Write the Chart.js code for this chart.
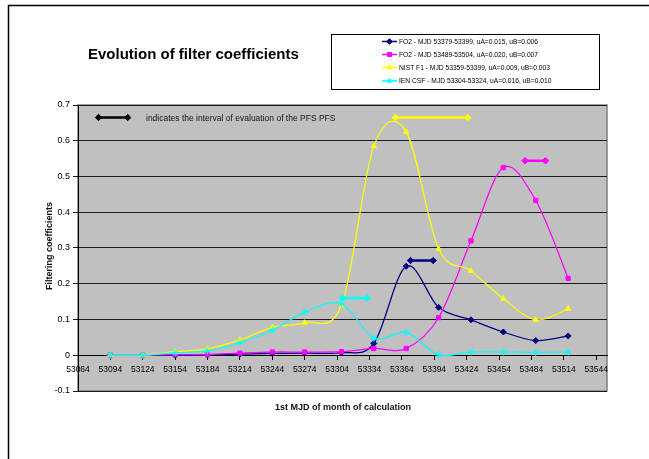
<!DOCTYPE html>
<html>
<head>
<meta charset="utf-8">
<script src="https://cdn.jsdelivr.net/npm/chart.js@4.4.1/dist/chart.umd.min.js"></script>
<style>
  html, body { margin: 0; padding: 0; background: #fff; }
  #wrap { width: 649px; height: 459px; }
</style>
</head>
<body>
<div id="wrap"><canvas id="filterChart" width="649" height="459"></canvas></div>
<script>
// Data
const mjd = [53094, 53124, 53154, 53184, 53214, 53244, 53274, 53308, 53338, 53368, 53398, 53428, 53458, 53488, 53518];
const fo2a = [0, 0, 0, 0.001, 0.003, 0.005, 0.006, 0.007, 0.033, 0.249, 0.134, 0.099, 0.065, 0.041, 0.054];
const fo2b = [0, 0, 0.002, 0.002, 0.006, 0.009, 0.009, 0.01, 0.019, 0.019, 0.105, 0.32, 0.525, 0.433, 0.215];
const nist = [0, 0, 0.01, 0.018, 0.043, 0.078, 0.091, 0.14, 0.585, 0.625, 0.298, 0.236, 0.158, 0.099, 0.13];
const ienCsf = [0, 0, 0.007, 0.012, 0.035, 0.07, 0.12, 0.144, 0.048, 0.064, 0.001, 0.009, 0.009, 0.008, 0.009];

// evaluation intervals [start, end] and level
const fo2aInterval = [53372, 53393];
const fo2aLevel = 0.265;
const fo2bInterval = [53478, 53497];
const fo2bLevel = 0.544;
const nistInterval = [53358, 53425];
const nistLevel = 0.665;
const ienInterval = [53309, 53332];
const ienLevel = 0.16;
const keyInterval = [53083, 53110];
const keyLevel = 0.665;

const xTicks = [53064, 53094, 53124, 53154, 53184, 53214, 53244, 53274, 53304, 53334, 53364, 53394, 53424, 53454, 53484, 53514, 53544];
const yTicks = [-0.1, 0, 0.1, 0.2, 0.3, 0.4, 0.5, 0.6, 0.7];

const seriesLabels = [
  'FO2 - MJD 53379-53399, uA=0.015, uB=0.006',
  'FO2 - MJD 53489-53504, uA=0.020, uB=0.007',
  'NIST F1 - MJD 53359-53399, uA=0.009, uB=0.003',
  'IEN CSF - MJD 53304-53324, uA=0.016, uB=0.010',
];
const seriesColors = ['#000080', '#FF00FF', '#FFFF00', '#00FFFF'];
const seriesMarkers = ['rectRot', 'rect', 'triangle', 'star'];

const FONT = 'Arial, "Liberation Sans", sans-serif';

function pts(xs, ys) {
  return xs.map((x, i) => ({ x: x, y: ys[i] }));
}

function series(i, values) {
  return {
    label: seriesLabels[i],
    data: pts(mjd, values),
    borderColor: seriesColors[i],
    backgroundColor: seriesColors[i],
    borderWidth: 1.25,
    tension: 0.4,
    pointStyle: seriesMarkers[i],
    pointRadius: seriesMarkers[i] === 'star' ? 3.5 : 3,
    pointBorderWidth: 1,
    pointBorderColor: seriesColors[i],
    order: 10 - i,
  };
}

function interval(range, level, color) {
  return {
    label: 'interval',
    data: pts(range, [level, level]),
    borderColor: color,
    backgroundColor: color,
    borderWidth: 2.5,
    tension: 0,
    pointStyle: 'rectRot',
    pointRadius: 3.2,
    pointBorderWidth: 1,
    pointBorderColor: color,
    order: 0,
  };
}

// Excel-like smoothing (uniform Catmull-Rom) for the 4 series
const smoothPlugin = {
  id: 'smooth',
  beforeDatasetsDraw(chart) {
    for (let i = 0; i < 4; i++) {
      const meta = chart.getDatasetMeta(i);
      meta.dataset.updateControlPoints(chart.chartArea, 'x');
      const p = meta.data;
      for (let j = 0; j < p.length; j++) {
        const prev = p[j - 1] || p[j];
        const next = p[j + 1] || p[j];
        const dx = (next.x - prev.x) / 6;
        const dy = (next.y - prev.y) / 6;
        p[j].cp1x = p[j].x - dx;
        p[j].cp1y = p[j].y - dy;
        p[j].cp2x = p[j].x + dx;
        p[j].cp2y = p[j].y + dy;
      }
      meta.dataset._path = undefined;
    }
  },
};

// background, frame, title, legend and texts
const decorPlugin = {
  id: 'decor',
  beforeDraw(chart) {
    const { ctx, chartArea: a } = chart;
    ctx.save();
    ctx.fillStyle = '#fff';
    ctx.fillRect(0, 0, chart.width, chart.height);
    ctx.fillStyle = '#C0C0C0';
    ctx.fillRect(a.left, a.top, a.right - a.left, a.bottom - a.top);
    ctx.strokeStyle = '#808080';
    ctx.lineWidth = 1.5;
    ctx.strokeRect(a.left, a.top, a.right - a.left, a.bottom - a.top);
    ctx.restore();
  },
  afterDraw(chart) {
    const { ctx } = chart;
    ctx.save();

    // outer frame (cut at right and bottom)
    ctx.strokeStyle = '#000';
    ctx.lineWidth = 1.5;
    ctx.beginPath();
    ctx.moveTo(8.5, 470);
    ctx.lineTo(8.5, 5.5);
    ctx.lineTo(660, 5.5);
    ctx.stroke();

    // title
    ctx.fillStyle = '#000';
    ctx.font = 'bold 15px ' + FONT;
    ctx.textBaseline = 'middle';
    ctx.textAlign = 'left';
    ctx.fillText('Evolution of filter coefficients', 88, 55);

    // legend box
    ctx.fillStyle = '#fff';
    ctx.fillRect(331, 34.5, 268, 55);
    ctx.strokeStyle = '#000';
    ctx.lineWidth = 1;
    ctx.strokeRect(331.5, 34.5, 268, 55);
    const rowY = [41.5, 54.5, 67.5, 81];
    ctx.font = '6.7px ' + FONT;
    seriesLabels.forEach((txt, i) => {
      const y = rowY[i];
      ctx.strokeStyle = seriesColors[i];
      ctx.lineWidth = 1.5;
      ctx.beginPath();
      ctx.moveTo(382, y);
      ctx.lineTo(397, y);
      ctx.stroke();
      ctx.fillStyle = seriesColors[i];
      ctx.lineWidth = 1;
      Chart.helpers.drawPoint(ctx, {
        pointStyle: seriesMarkers[i],
        radius: 2.8,
        borderWidth: 1,
      }, 389.5, y);
      ctx.fillStyle = '#000';
      ctx.fillText(txt, 399, y + 0.5);
    });

    // key text for the interval marker
    ctx.fillStyle = '#111';
    ctx.font = '8.5px ' + FONT;
    ctx.fillText('indicates the interval of evaluation of the PFS PFS', 146, 118.5);

    // axis titles
    ctx.font = 'bold 9px ' + FONT;
    ctx.textAlign = 'center';
    ctx.fillText('1st MJD of month of calculation', 343, 408);
    ctx.translate(50, 246);
    ctx.rotate(-Math.PI / 2);
    ctx.fillText('Filtering coefficients', 0, 0);
    ctx.restore();
  },
};

Chart.defaults.font.family = FONT;
Chart.defaults.color = '#000';

const ctx = document.getElementById('filterChart');
const filterChart = new Chart(ctx, {
  type: 'line',
  data: {
    datasets: [
      series(0, fo2a),
      series(1, fo2b),
      series(2, nist),
      series(3, ienCsf),
      interval(fo2aInterval, fo2aLevel, seriesColors[0]),
      interval(fo2bInterval, fo2bLevel, seriesColors[1]),
      interval(nistInterval, nistLevel, seriesColors[2]),
      interval(ienInterval, ienLevel, seriesColors[3]),
      interval(keyInterval, keyLevel, '#000'),
    ],
  },
  options: {
    responsive: false,
    animation: false,
    devicePixelRatio: 1,
    layout: {
      padding: { left: 0, right: 42, top: 105, bottom: 68 },
    },
    plugins: {
      legend: { display: false },
      title: { display: false },
      tooltip: { enabled: false },
    },
    scales: {
      x: {
        type: 'linear',
        min: 53064,
        max: 53554,
        position: { y: 0 },
        afterBuildTicks(scale) {
          scale.ticks = xTicks.map((v) => ({ value: v }));
        },
        ticks: {
          autoSkip: false,
          maxRotation: 0,
          padding: 5,
          font: { size: 8.5 },
          color: '#000',
          callback: function (value) {
            return String(value);
          },
        },
        grid: {
          drawOnChartArea: false,
          drawTicks: true,
          tickLength: 4,
          color: '#000',
        },
        border: { display: true, color: '#000', width: 1 },
      },
      y: {
        type: 'linear',
        min: -0.1,
        max: 0.7,
        afterBuildTicks(scale) {
          scale.ticks = yTicks.map((v) => ({ value: v }));
        },
        afterFit(scale) {
          scale.width = 78;
        },
        ticks: {
          padding: 3,
          font: { size: 9 },
          color: '#000',
          callback: function (value) {
            return Math.abs(value) < 1e-9 ? '0' : value.toFixed(1);
          },
        },
        grid: {
          color: '#1a1a1a',
          lineWidth: 1,
          tickLength: 5,
        },
        border: { display: true, color: '#000', width: 1 },
      },
    },
  },
  plugins: [smoothPlugin, decorPlugin],
});
</script>
</body>
</html>
